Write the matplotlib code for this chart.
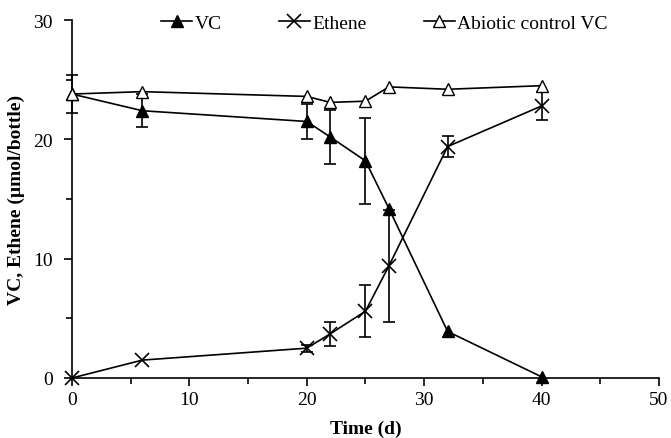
import numpy as np
import matplotlib.pyplot as plt
from matplotlib.ticker import MultipleLocator
from matplotlib.lines import Line2D

plt.rcParams['font.family'] = ['Liberation Serif', 'DejaVu Serif']

days = [0, 6, 20, 22, 25, 27, 32, 40]
vc = [23.8, 22.4, 21.5, 20.2, 18.2, 14.2, 3.9, 0.1]
vc_err = [1.6, 1.4, 1.5, 2.3, 3.6, 0.0, 0.0, 0.0]
ethene = [0.0, 1.5, 2.5, 3.7, 5.6, 9.4, 19.4, 22.8]
ethene_err = [0.0, 0.0, 0.3, 1.0, 2.2, 4.7, 0.9, 1.2]
abiotic = [23.8, 24.0, 23.6, 23.1, 23.2, 24.4, 24.2, 24.5]

fig = plt.figure(figsize=(6.71, 4.39), dpi=100)
ax = fig.add_axes([0.1073, 0.1367, 0.8747, 0.8153])

lw = 1.2
# error bars only where there is a spread
for y, e in [(vc, vc_err), (ethene, ethene_err)]:
    xs = [d for d, v in zip(days, e) if v > 0]
    ys = [a for a, v in zip(y, e) if v > 0]
    es = [v for v in e if v > 0]
    ax.errorbar(xs, ys, yerr=es, fmt='none', ecolor='black', elinewidth=lw,
                capsize=4, capthick=lw, clip_on=False, zorder=2)

ax.plot(days, vc, color='black', marker='^', markersize=9, mfc='black',
        mec='black', lw=lw, clip_on=False, zorder=3)
ax.plot(days, ethene, color='black', marker='x', markersize=9.5, mew=lw,
        lw=lw, clip_on=False, zorder=3)
ax.plot(days, abiotic, color='black', marker='^', markersize=9, mfc='white',
        mec='black', lw=lw, clip_on=False, zorder=4)

ax.set_xlim(0, 50)
ax.set_ylim(0, 30)
ax.xaxis.set_major_locator(MultipleLocator(10))
ax.xaxis.set_minor_locator(MultipleLocator(5))
ax.yaxis.set_major_locator(MultipleLocator(10))
ax.yaxis.set_minor_locator(MultipleLocator(5))
ax.tick_params(which='major', direction='out', length=6, width=lw, labelsize=14)
ax.tick_params(which='minor', direction='out', length=4, width=lw)
ax.tick_params(axis='y', pad=8)
for s in ['top', 'right']:
    ax.spines[s].set_visible(False)
for s in ['left', 'bottom']:
    ax.spines[s].set_linewidth(lw)

ax.set_xlabel('Time (d)', fontsize=14, fontweight='bold', labelpad=8)
ax.set_ylabel('VC, Ethene (µmol/bottle)', fontsize=14, fontweight='bold', labelpad=6)

handles = [
    Line2D([], [], color='black', lw=lw, marker='^', markersize=9, mfc='black'),
    Line2D([], [], color='black', lw=lw, marker='x', markersize=9.5, mew=lw),
    Line2D([], [], color='black', lw=lw, marker='^', markersize=9, mfc='white'),
]
ax.legend(handles, ['VC', 'Ethene', 'Abiotic control VC'], loc='upper center',
          ncol=3, frameon=False, fontsize=14, bbox_to_anchor=(0.532, 1.065),
          handlelength=1.6, handletextpad=0.1, columnspacing=2.95)

fig.savefig('out.png', dpi=100)
